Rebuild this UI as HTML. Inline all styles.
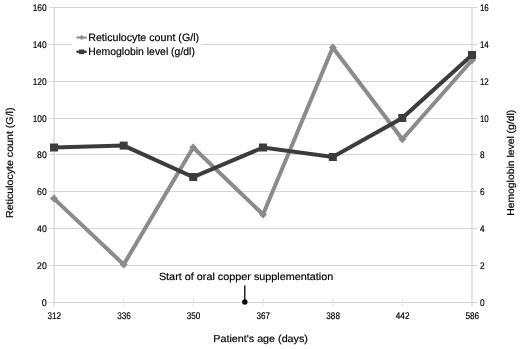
<!DOCTYPE html>
<html><head><meta charset="utf-8">
<style>
html,body{margin:0;padding:0;background:#fff;}
svg{display:block;will-change:transform;}
text{font-family:"Liberation Sans",sans-serif;fill:#000;text-rendering:geometricPrecision;stroke:#000;stroke-width:0.18px;}
</style></head>
<body>
<svg width="520" height="349" viewBox="0 0 520 349">
<rect width="520" height="349" fill="#fff"/>
<g stroke="#d4d4d4" stroke-width="1" fill="none">
<path d="M49.5 7.5H477M49.5 44.5H477M49.5 81.5H477M49.5 118.5H477M49.5 154.5H477M49.5 191.5H477M49.5 228.5H477M49.5 265.5H477M49.5 302.5H477"/>
<path d="M54.2 7.5V306.3M472 7.5V306.3" stroke="#d6d6d6" stroke-width="1.2"/>
<path stroke="#e2e2e2" d="M123.5 298V306.3M193.3 298V306.3M263.4 298V306.3M332.8 298V306.3M402.4 298V306.3"/>
</g>
<rect x="72" y="30" width="129.5" height="29" fill="#fff"/>
<g fill="none" stroke-linejoin="miter">
<polyline stroke="#8b8b8b" stroke-width="4" points="54,198.6 123.7,264.5 193.2,147.5 263,214.5 332.8,47.6 402.3,139.3 472,60.3"/>
<polyline stroke="#3c3c3c" stroke-width="4" points="54,147.5 123.7,145.6 193.2,177 263,147.5 332.8,157 402.3,118 472,55"/>
</g>
<g fill="#8b8b8b">
<path d="M54 194.6l4 4-4 4-4-4z"/>
<path d="M123.7 260.5l4 4-4 4-4-4z"/>
<path d="M193.2 143.5l4 4-4 4-4-4z"/>
<path d="M263 210.5l4 4-4 4-4-4z"/>
<path d="M332.8 43.6l4 4-4 4-4-4z"/>
<path d="M402.3 135.3l4 4-4 4-4-4z"/>
<path d="M472 56.3l4 4-4 4-4-4z"/>
</g>
<g fill="#3c3c3c">
<rect x="50" y="143.5" width="8" height="8"/>
<rect x="119.7" y="141.6" width="8" height="8"/>
<rect x="189.2" y="173" width="8" height="8"/>
<rect x="259" y="143.5" width="8" height="8"/>
<rect x="328.8" y="153" width="8" height="8"/>
<rect x="398.3" y="114" width="8" height="8"/>
<rect x="468" y="51" width="8" height="8"/>
</g>
<path d="M76.5 37.5H86.7" stroke="#8b8b8b" stroke-width="2"/>
<path d="M81.6 35l2.5 2.5-2.5 2.5-2.5-2.5z" fill="#8b8b8b"/>
<path d="M76.5 51.8H86.7" stroke="#3c3c3c" stroke-width="2.4"/>
<rect x="79" y="49.5" width="5.2" height="4.6" fill="#3c3c3c"/>
<text x="88.2" y="40.7" font-size="10.7" textLength="110.9" lengthAdjust="spacingAndGlyphs">Reticulocyte count (G/l)</text>
<text x="88.2" y="54.6" font-size="10.7" textLength="106.7" lengthAdjust="spacingAndGlyphs">Hemoglobin level (g/dl)</text>
<g font-size="9.6" text-anchor="end">
<text x="46.7" y="10.5" textLength="14.0" lengthAdjust="spacingAndGlyphs">160</text>
<text x="46.7" y="47.55" textLength="14.0" lengthAdjust="spacingAndGlyphs">140</text>
<text x="46.7" y="84.6" textLength="14.0" lengthAdjust="spacingAndGlyphs">120</text>
<text x="46.7" y="121.65" textLength="14.0" lengthAdjust="spacingAndGlyphs">100</text>
<text x="46.7" y="157.7" textLength="9.6" lengthAdjust="spacingAndGlyphs">80</text>
<text x="46.7" y="194.75" textLength="9.6" lengthAdjust="spacingAndGlyphs">60</text>
<text x="46.7" y="231.8" textLength="9.6" lengthAdjust="spacingAndGlyphs">40</text>
<text x="46.7" y="268.85" textLength="9.6" lengthAdjust="spacingAndGlyphs">20</text>
<text x="46.7" y="305.9" textLength="5.0" lengthAdjust="spacingAndGlyphs">0</text>
</g>
<g font-size="9.6" text-anchor="start">
<text x="479.9" y="10.55" textLength="8.83" lengthAdjust="spacingAndGlyphs">16</text>
<text x="479.9" y="47.55" textLength="8.83" lengthAdjust="spacingAndGlyphs">14</text>
<text x="479.9" y="84.55" textLength="8.83" lengthAdjust="spacingAndGlyphs">12</text>
<text x="479.9" y="121.55" textLength="8.83" lengthAdjust="spacingAndGlyphs">10</text>
<text x="479.9" y="157.55" textLength="4.6" lengthAdjust="spacingAndGlyphs">8</text>
<text x="479.9" y="194.55" textLength="4.6" lengthAdjust="spacingAndGlyphs">6</text>
<text x="479.9" y="231.55" textLength="4.6" lengthAdjust="spacingAndGlyphs">4</text>
<text x="479.9" y="268.55" textLength="4.6" lengthAdjust="spacingAndGlyphs">2</text>
<text x="479.9" y="305.55" textLength="4.6" lengthAdjust="spacingAndGlyphs">0</text>
</g>
<g font-size="9.6" text-anchor="middle">
<text x="54.3" y="318.6" textLength="13.7" lengthAdjust="spacingAndGlyphs">312</text>
<text x="124.0" y="318.6" textLength="13.7" lengthAdjust="spacingAndGlyphs">336</text>
<text x="193.5" y="318.6" textLength="13.7" lengthAdjust="spacingAndGlyphs">350</text>
<text x="263.3" y="318.6" textLength="13.7" lengthAdjust="spacingAndGlyphs">367</text>
<text x="333.1" y="318.6" textLength="13.7" lengthAdjust="spacingAndGlyphs">388</text>
<text x="402.6" y="318.6" textLength="13.7" lengthAdjust="spacingAndGlyphs">442</text>
<text x="472.3" y="318.6" textLength="13.7" lengthAdjust="spacingAndGlyphs">586</text>
</g>
<text x="158.9" y="279.7" font-size="10.3" textLength="174.4" lengthAdjust="spacingAndGlyphs">Start of oral copper supplementation</text>
<path d="M244.8 285.5V302" stroke="#000" stroke-width="1.3"/>
<circle cx="244.8" cy="302" r="2.7" fill="#000"/>
<text x="213.3" y="342.1" font-size="10.2" textLength="94.6" lengthAdjust="spacingAndGlyphs">Patient's age (days)</text>
<text transform="translate(13,162.75) rotate(-90)" font-size="10" text-anchor="middle" textLength="110.5" lengthAdjust="spacingAndGlyphs">Reticulocyte count (G/l)</text>
<text transform="translate(514.2,162.8) rotate(-90)" font-size="10" text-anchor="middle" textLength="106" lengthAdjust="spacingAndGlyphs">Hemoglobin level (g/dl)</text>
</svg>
</body></html>
